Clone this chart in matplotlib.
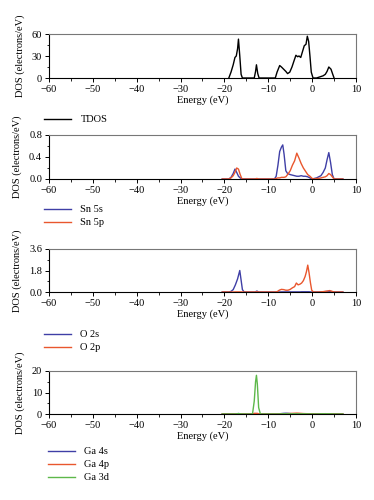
import matplotlib
matplotlib.use("Agg")
import matplotlib.pyplot as plt
from matplotlib.ticker import MultipleLocator

plt.rcParams["font.family"] = ["Liberation Serif", "DejaVu Serif"]
plt.rcParams["font.size"] = 7

BLUE = "#3f3fa6"
RED = "#e9572e"
GREEN = "#5db84a"

# TDOS
tdos_e = [-19, -18.5, -18, -17.6, -17.3, -17.0, -16.8, -16.5, -16.2, -15.9,
          -13.2, -12.9, -12.7, -12.4, -12.1, -8.4, -8.0, -7.4, -7.0, -6.5,
          -6.0, -5.6, -5.1, -4.6, -4.1, -3.7, -3.3, -3.0, -2.6, -2.2, -1.8,
          -1.4, -1.1, -0.8, -0.5, -0.2, 0.2, 1.0, 1.5, 2.0, 2.5, 3.0, 3.4,
          3.8, 4.3, 4.7, 5.0]
tdos_v = [0, 8, 18, 28, 30, 40, 53, 30, 5, 0,
          0, 9, 18, 6, 0, 0, 8, 17, 15, 12,
          9, 6, 8, 15, 24, 31, 29, 30, 28, 36, 44,
          46, 57, 50, 30, 8, 0, 0, 1, 2, 3, 5, 9,
          15, 12, 5, 0]

# Sn 5s / Sn 5p
sn_e = [-20.5, -19.0, -18.5, -18.0, -17.6, -17.2, -16.8, -16.4, -16.0, -13.0,
        -12.6, -12.2, -8.6, -8.2, -7.8, -7.4, -7.0, -6.7, -6.4, -6.0, -5.6,
        -5.0, -4.5, -4.0, -3.5, -3.0, -2.5, -2.0, -1.5, -1.0, -0.5, 0.0, 0.5,
        1.0, 1.5, 2.0, 2.5, 3.0, 3.4, 3.8, 4.2, 4.6, 5.0, 5.5, 7.0]
sn5s_v = [0, 0, 0.03, 0.1, 0.18, 0.12, 0.05, 0.02, 0, 0,
          0, 0, 0, 0.05, 0.25, 0.5, 0.58, 0.62, 0.45, 0.15, 0.1,
          0.08, 0.07, 0.06, 0.05, 0.05, 0.06, 0.05, 0.05, 0.04, 0.02, 0.0, 0.01,
          0.02, 0.04, 0.06, 0.12, 0.2, 0.35, 0.48, 0.3, 0.08, 0, 0, 0]
sn5p_v = [0, 0, 0.02, 0.06, 0.12, 0.2, 0.18, 0.08, 0, 0,
          0.01, 0, 0, 0.01, 0.02, 0.02, 0.03, 0.03, 0.03, 0.04, 0.08,
          0.15, 0.25, 0.33, 0.47, 0.38, 0.28, 0.2, 0.14, 0.08, 0.05, 0.01, 0.0,
          0.01, 0.01, 0.02, 0.03, 0.04, 0.06, 0.1, 0.08, 0.04, 0, 0, 0]

# O 2s / O 2p
o_e = [-20.5, -19.0, -18.5, -18.0, -17.5, -17.0, -16.5, -16.2, -15.9, -15.5,
       -13.0, -12.6, -12.2, -8.5, -8.0, -7.5, -7.0, -6.5, -6.0, -5.5, -5.0,
       -4.5, -4.0, -3.6, -3.2, -2.8, -2.4, -2.0, -1.6, -1.3, -1.0, -0.7,
       -0.4, -0.1, 0.3, 1.5, 2.5, 3.5, 4.0, 4.5, 5.0, 7.0]
o2s_v = [0, 0, 0.05, 0.2, 0.6, 1.1, 1.8, 1.0, 0.2, 0,
         0, 0.08, 0, 0, 0, 0, 0.01, 0.01, 0.01, 0.01, 0.01,
         0.01, 0.01, 0.01, 0.01, 0.01, 0.02, 0.02, 0.02, 0.02, 0.02, 0.02,
         0.01, 0, 0, 0, 0.02, 0.05, 0.06, 0.03, 0, 0]
o2p_v = [0, 0, 0, 0, 0.01, 0.01, 0.01, 0.01, 0, 0,
         0, 0.02, 0, 0, 0.02, 0.15, 0.22, 0.2, 0.15, 0.15, 0.22,
         0.35, 0.45, 0.75, 0.6, 0.65, 0.75, 0.95, 1.3, 1.7, 2.25, 1.6,
         0.8, 0.15, 0, 0, 0.03, 0.08, 0.12, 0.06, 0, 0]

# Ga 4s / Ga 4p / Ga 3d
ga_e = [-20.5, -17.5, -16.8, -16.0, -13.6, -13.2, -12.9, -12.7, -12.5, -12.2,
        -11.8, -8.0, -6.5, -6.0, -5.5, -4.5, -3.5, -3.0, -2.0, -0.5, 1.0,
        2.0, 3.0, 4.0, 5.0, 7.0]
ga4s_v = [0, 0, 0.2, 0, 0, 0, 0.1, 0.1, 0.1, 0, 0, 0, 0.3, 0.35, 0.3, 0.1,
          0.15, 0.1, 0.1, 0.05, 0, 0.1, 0.15, 0.1, 0, 0]
ga4p_v = [0, 0, 0.1, 0, 0, 0.3, 0.3, 0.3, 0.3, 0.1, 0, 0, 0.1, 0.15, 0.2, 0.3,
          0.4, 0.35, 0.2, 0.1, 0, 0.05, 0.1, 0.1, 0, 0]
ga3d_v = [0, 0, 0.2, 0, 0, 6, 15, 18, 14, 3, 0, 0, 0.1, 0.1, 0.1, 0.1, 0.1,
          0.1, 0.1, 0.05, 0, 0.1, 0.1, 0.1, 0, 0]

fig = plt.figure(figsize=(3.74, 5.0), dpi=100)

left, width = 49 / 374, 307 / 374
panel_px = [(34, 78), (135, 179), (249, 292), (371, 414)]
ylims = [(0, 60, 30), (0, 0.8, 0.4), (0, 3.6, 1.8), (0, 20, 10)]
yfmt = ["{:.0f}", "{:.1f}", "{:.1f}", "{:.0f}"]
series = [
    [(tdos_e, tdos_v, "black", "TDOS")],
    [(sn_e, sn5s_v, BLUE, "Sn 5s"), (sn_e, sn5p_v, RED, "Sn 5p")],
    [(o_e, o2s_v, BLUE, "O 2s"), (o_e, o2p_v, RED, "O 2p")],
    [(ga_e, ga4s_v, BLUE, "Ga 4s"), (ga_e, ga4p_v, RED, "Ga 4p"),
     (ga_e, ga3d_v, GREEN, "Ga 3d")],
]
legend_top_px = [115, 205, 330, 447]
legend_x_px = [44, 44, 44, 48]

for i, (top, bot) in enumerate(panel_px):
    ax = fig.add_axes([left, 1 - bot / 500, width, (bot - top) / 500])
    for e, v, c, lab in series[i]:
        ax.plot(e, v, color=c, lw=1.0, label=lab)
    ax.set_xlim(-60, 10)
    lo, hi, step = ylims[i]
    ax.xaxis.set_major_locator(MultipleLocator(10))
    ax.xaxis.set_minor_locator(MultipleLocator(5))
    ax.yaxis.set_minor_locator(MultipleLocator(step / 2))
    yt = [lo, lo + step, hi]
    ax.set_yticks(yt)
    ax.set_yticklabels([yfmt[i].format(t) for t in yt])
    ax.set_ylim(lo, hi)
    ax.tick_params(which="major", direction="out", length=3, width=0.7, labelsize=7.5, pad=2)
    ax.tick_params(which="minor", direction="out", length=1.8, width=0.6)
    ax.tick_params(top=False, right=False)
    for s in ("top", "right"):
        ax.spines[s].set_color("#777777")
    for s in ("left", "bottom"):
        ax.spines[s].set_color("black")
    for s in ax.spines.values():
        s.set_linewidth(0.8)
    ax.set_xlabel("Energy (eV)", fontsize=7.5, labelpad=1)
    ax.set_ylabel("DOS (electrons/eV)", fontsize=7.5, labelpad=5)
    fig.legend(handles=ax.get_lines(), loc="upper left",
               bbox_to_anchor=(legend_x_px[i] / 374, 1 - legend_top_px[i] / 500),
               frameon=False, fontsize=7.5, handlelength=2.6, handletextpad=0.9,
               labelspacing=0.35, borderaxespad=0, borderpad=0)

fig.savefig("out.png", dpi=100)
